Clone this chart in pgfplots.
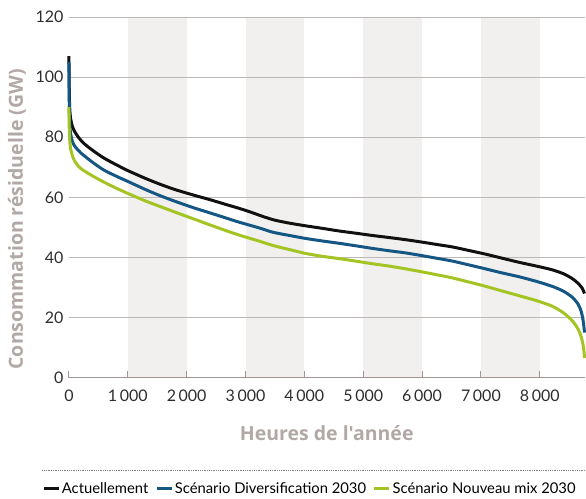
\documentclass[border=0pt]{standalone}
\usepackage{pgfplots}
\pgfplotsset{compat=1.18}
\usepackage{fontspec}
\setmainfont{Lato}
\newfontfamily\labfont{Open Sans}
\definecolor{cblack}{RGB}{17,17,17}
\definecolor{cblue}{RGB}{20,86,132}
\definecolor{cgreen}{RGB}{164,196,36}
\definecolor{band}{RGB}{242,240,238}
\definecolor{gridc}{RGB}{188,184,184}
\definecolor{axc}{RGB}{165,148,148}
\definecolor{labc}{RGB}{178,168,166}
\definecolor{tickc}{RGB}{45,45,45}
\begin{document}
\begin{tikzpicture}
\begin{axis}[
  set layers=standard,
  at={(69bp,-378bp)}, anchor=south west,
  scale only axis, width=516bp, height=361bp,
  xmin=0, xmax=8760, ymin=0, ymax=120,
  clip=false,
  axis x line*=bottom, axis y line*=left,
  y axis line style={draw=none},
  x axis line style={draw=axc, line width=1.2bp},
  xtick={0,1000,...,8000},
  ytick={0,20,...,120},
  xtick style={draw=axc, line width=1bp},
  ytick style={draw=none},
  tick align=inside,
  major tick length=7bp,
  ymajorgrids, grid style={draw=gridc, line width=0.8bp},
  /pgf/number format/assume math mode=true,
  /pgf/number format/1000 sep={\,},
  ticklabel style={font=\fontsize{16bp}{19bp}\selectfont, text=tickc},
  xticklabel style={yshift=-9bp},
  yticklabel style={xshift=-2bp},
  xlabel={Heures de l'année},
  ylabel={Consommation résiduelle (GW)},
  xlabel style={at={([yshift=-55bp]rel axis cs:0.5,0)}, anchor=center,
    font=\labfont\bfseries\fontsize{19.5bp}{22bp}\selectfont, text=labc},
  ylabel style={at={([xshift=-52bp,yshift=-22bp]rel axis cs:0,0.5)}, anchor=center,
    font=\labfont\bfseries\fontsize{19.5bp}{22bp}\selectfont, text=labc},
  legend style={at={(-0.052,-0.307)}, anchor=west, draw=none, fill=none,
    font=\fontsize{14.8bp}{18bp}\selectfont, inner sep=0pt,
    /tikz/every even column/.append style={column sep=5bp}},
  legend columns=3,
  legend cell align=left,
  legend image code/.code={\draw[#1, line width=2.6bp] (0bp,0bp) -- (15bp,0bp);},
]
\addplot[on layer=axis background, fill=band, draw=none, forget plot] coordinates {(1000,0) (1000,120) (2000,120) (2000,0)} -- cycle;
\addplot[on layer=axis background, fill=band, draw=none, forget plot] coordinates {(3000,0) (3000,120) (4000,120) (4000,0)} -- cycle;
\addplot[on layer=axis background, fill=band, draw=none, forget plot] coordinates {(5000,0) (5000,120) (6000,120) (6000,0)} -- cycle;
\addplot[on layer=axis background, fill=band, draw=none, forget plot] coordinates {(7000,0) (7000,120) (8000,120) (8000,0)} -- cycle;
\addplot[cblack, line width=3bp, smooth, tension=0.45] coordinates {
(0,107) (3,100) (8,93) (15,89) (30,86) (60,83.5) (100,81.8) (160,80) (250,78) (412,75.5) (600,73) (808,70.8) (1000,68.9) (1300,66.3) (1542,64.4) (1800,62.6) (2107,60.8) (2400,59.2) (2672,57.6) (2898,56.3) (3100,55.0) (3300,53.6) (3500,52.4) (3750,51.4) (4028,50.5) (4300,49.7) (4593,48.8) (4900,48.0) (5158,47.3) (5450,46.6) (5723,45.9) (6000,45.1) (6288,44.2) (6514,43.5) (6800,42.3) (7079,41.1) (7350,39.8) (7644,38.4) (7950,37.1) (8209,35.9) (8400,34.6) (8550,33.0) (8650,31.4) (8720,29.8) (8760,28)};
\addlegendentry{Actuellement}
\addplot[cblue, line width=3bp, smooth, tension=0.45] coordinates {
(0,105) (3,96) (8,88) (15,84) (30,81) (60,78.5) (100,77) (200,74.8) (412,71.5) (600,69) (808,67) (1000,65.3) (1300,62.6) (1542,60.6) (1800,58.7) (2107,56.6) (2400,54.8) (2672,53.1) (2898,51.7) (3237,49.8) (3463,48.4) (3750,47.3) (4028,46.3) (4300,45.5) (4593,44.7) (4900,43.8) (5158,43.0) (5450,42.2) (5723,41.5) (6000,40.6) (6288,39.6) (6514,38.8) (6800,37.5) (7079,36.2) (7350,34.9) (7644,33.6) (7950,32.0) (8209,30.4) (8400,28.8) (8550,26.8) (8650,24.5) (8700,22.3) (8730,19.8) (8750,17) (8760,15)};
\addlegendentry{Scénario Diversification 2030}
\addplot[cgreen, line width=3bp, smooth, tension=0.45] coordinates {
(0,90) (3,85) (8,81) (15,78.5) (30,76) (60,73.8) (100,72) (200,69.6) (412,67) (600,65) (808,63) (1000,61.3) (1300,58.8) (1542,57) (1800,55.1) (2107,52.9) (2400,50.8) (2672,48.9) (2898,47.4) (3237,45.4) (3463,44.0) (3750,42.6) (4028,41.3) (4300,40.4) (4593,39.6) (4900,38.7) (5158,37.9) (5450,37.1) (5723,36.2) (6000,35.2) (6288,34.1) (6514,33.2) (6800,31.8) (7079,30.4) (7350,28.9) (7644,27.3) (7950,25.6) (8209,23.8) (8400,21.6) (8550,19.0) (8650,16.2) (8700,13.8) (8730,11.5) (8750,9) (8760,6.5)};
\addlegendentry{Scénario Nouveau mix 2030}
\draw[densely dotted, gray, line width=0.8bp] (rel axis cs:-0.052,-0.258) -- (rel axis cs:1,-0.258);
\end{axis}
\path (0bp,0bp) rectangle (586bp,-499bp);
\end{tikzpicture}
\end{document}
